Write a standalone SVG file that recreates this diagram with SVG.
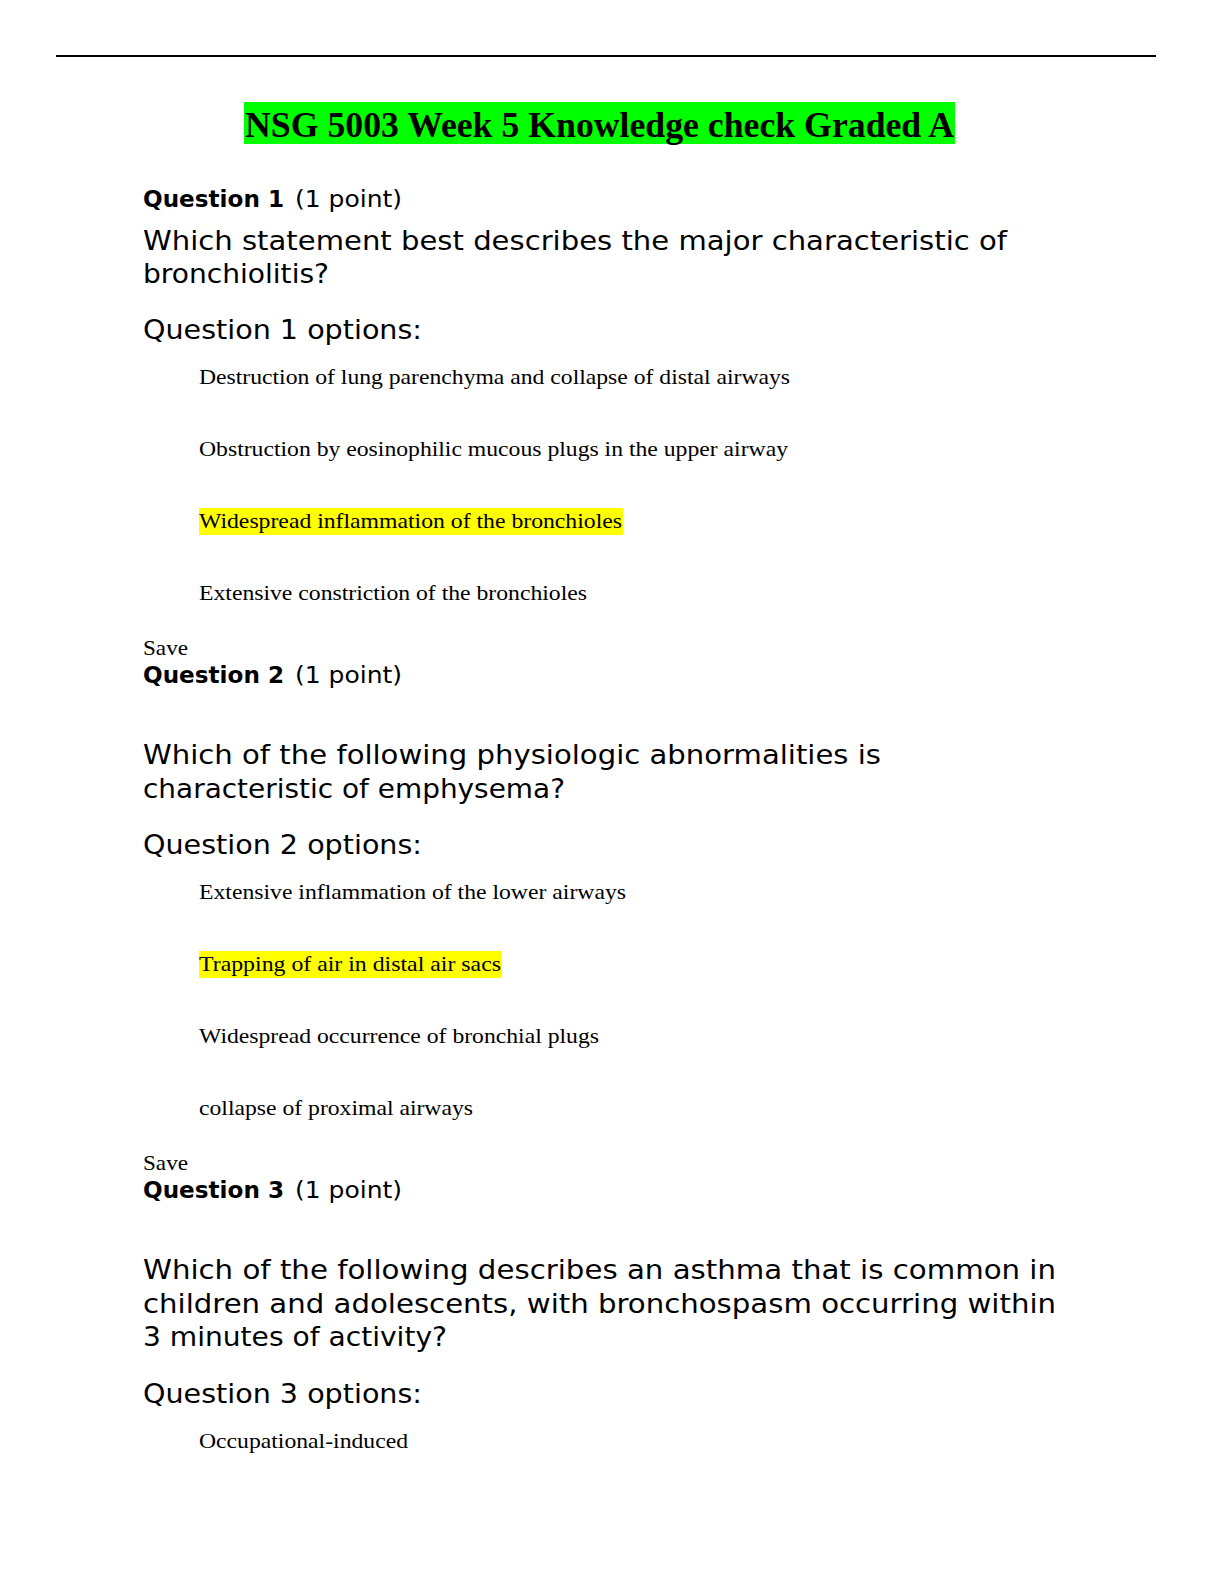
<svg xmlns="http://www.w3.org/2000/svg" width="1224" height="1584" viewBox="0 0 1224 1584">
<style>
.t{font-family:"Liberation Serif","Times New Roman",serif;font-size:21px;fill:#000}
.h{font-family:"DejaVu Sans","Liberation Sans",sans-serif;font-size:23px;fill:#000}
.hb{font-family:"DejaVu Sans","Liberation Sans",sans-serif;font-size:23px;font-weight:bold;fill:#000}
.q{font-family:"DejaVu Sans","Liberation Sans",sans-serif;font-size:27px;fill:#000}
.hl{fill:#ffff00}
</style>
<rect width="1224" height="1584" fill="#fff"/>
<line x1="56" y1="56" x2="1156" y2="56" stroke="#000" stroke-width="2"/>
<rect x="244" y="102" width="711" height="42" fill="#00ff00"/>
<text x="245" y="137" font-family="Liberation Serif,'Times New Roman',serif" font-size="36" font-weight="bold" textLength="709" lengthAdjust="spacingAndGlyphs">NSG 5003 Week 5 Knowledge check Graded A</text>

<g id="q1">
<text class="hb" x="143" y="207" textLength="141" lengthAdjust="spacingAndGlyphs">Question 1</text>
<text class="h" x="295" y="207" textLength="107" lengthAdjust="spacingAndGlyphs">(1 point)</text>
<text class="q" x="143" y="250" textLength="864" lengthAdjust="spacingAndGlyphs">Which statement best describes the major characteristic of</text>
<text class="q" x="143" y="283" textLength="186" lengthAdjust="spacingAndGlyphs">bronchiolitis?</text>
<text class="q" x="143" y="339" textLength="279" lengthAdjust="spacingAndGlyphs">Question 1 options:</text>
<text class="t" x="199" y="384" textLength="591" lengthAdjust="spacingAndGlyphs">Destruction of lung parenchyma and collapse of distal airways</text>
<text class="t" x="199" y="456" textLength="589" lengthAdjust="spacingAndGlyphs">Obstruction by eosinophilic mucous plugs in the upper airway</text>
<rect class="hl" x="199" y="508" width="424" height="27"/>
<text class="t" x="199" y="528" textLength="423" lengthAdjust="spacingAndGlyphs">Widespread inflammation of the bronchioles</text>
<text class="t" x="199" y="600" textLength="388" lengthAdjust="spacingAndGlyphs">Extensive constriction of the bronchioles</text>
<text class="t" x="143" y="655" textLength="45" lengthAdjust="spacingAndGlyphs">Save</text>
</g>

<g id="q2">
<text class="hb" x="143" y="683" textLength="141" lengthAdjust="spacingAndGlyphs">Question 2</text>
<text class="h" x="295" y="683" textLength="107" lengthAdjust="spacingAndGlyphs">(1 point)</text>
<text class="q" x="143" y="764" textLength="738" lengthAdjust="spacingAndGlyphs">Which of the following physiologic abnormalities is</text>
<text class="q" x="143" y="798" textLength="422" lengthAdjust="spacingAndGlyphs">characteristic of emphysema?</text>
<text class="q" x="143" y="854" textLength="279" lengthAdjust="spacingAndGlyphs">Question 2 options:</text>
<text class="t" x="199" y="899" textLength="427" lengthAdjust="spacingAndGlyphs">Extensive inflammation of the lower airways</text>
<rect class="hl" x="199" y="951" width="303" height="27"/>
<text class="t" x="199" y="971" textLength="302" lengthAdjust="spacingAndGlyphs">Trapping of air in distal air sacs</text>
<text class="t" x="199" y="1043" textLength="400" lengthAdjust="spacingAndGlyphs">Widespread occurrence of bronchial plugs</text>
<text class="t" x="199" y="1115" textLength="274" lengthAdjust="spacingAndGlyphs">collapse of proximal airways</text>
<text class="t" x="143" y="1170" textLength="45" lengthAdjust="spacingAndGlyphs">Save</text>
</g>

<g id="q3">
<text class="hb" x="143" y="1198" textLength="141" lengthAdjust="spacingAndGlyphs">Question 3</text>
<text class="h" x="295" y="1198" textLength="107" lengthAdjust="spacingAndGlyphs">(1 point)</text>
<text class="q" x="143" y="1279" textLength="913" lengthAdjust="spacingAndGlyphs">Which of the following describes an asthma that is common in</text>
<text class="q" x="143" y="1313" textLength="913" lengthAdjust="spacingAndGlyphs">children and adolescents, with bronchospasm occurring within</text>
<text class="q" x="143" y="1346" textLength="304" lengthAdjust="spacingAndGlyphs">3 minutes of activity?</text>
<text class="q" x="143" y="1403" textLength="279" lengthAdjust="spacingAndGlyphs">Question 3 options:</text>
<text class="t" x="199" y="1448" textLength="209" lengthAdjust="spacingAndGlyphs">Occupational-induced</text>
</g>
</svg>
